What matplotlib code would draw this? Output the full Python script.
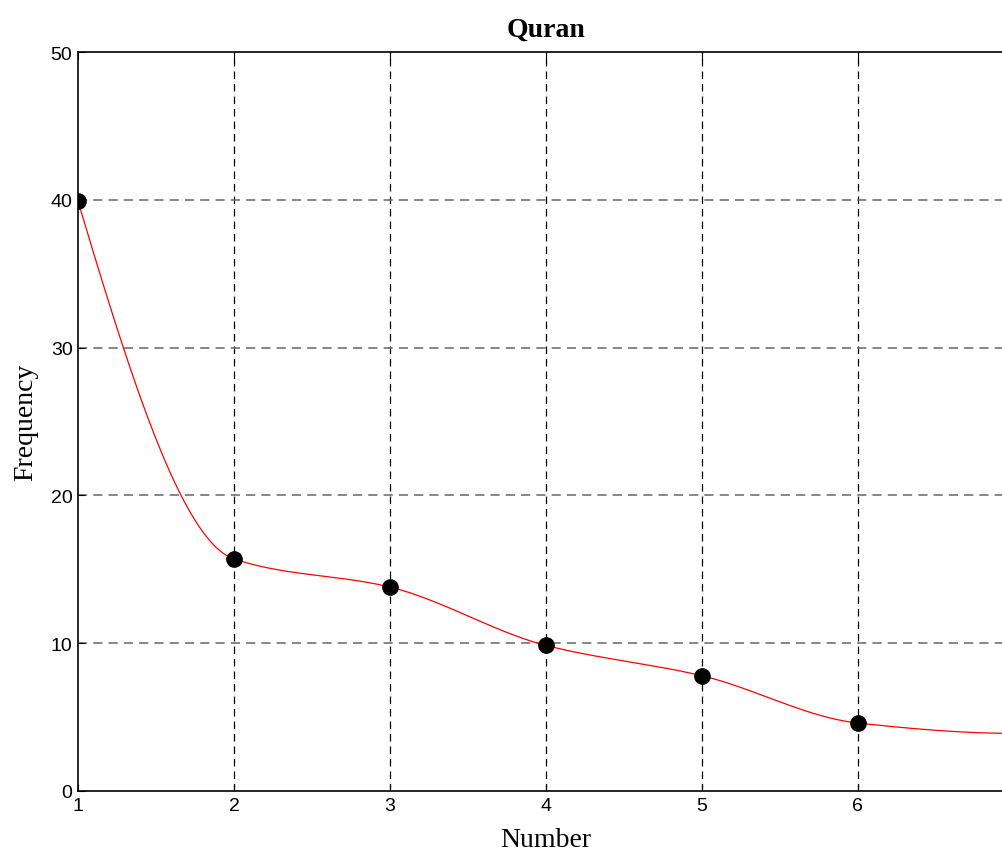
import numpy as np
import matplotlib
matplotlib.use("Agg")
import matplotlib.pyplot as plt

# data
number = [1, 2, 3, 4, 5, 6, 7]
frequency = [39.9, 15.7, 13.8, 9.85, 7.8, 4.6, 3.9]
xticks = [1, 2, 3, 4, 5, 6, 7]
yticks = [0, 10, 20, 30, 40, 50]


def pchip(x, y, xs):
    # shape-preserving piecewise cubic, like matlab's pchip
    x = np.asarray(x, float)
    y = np.asarray(y, float)
    h = np.diff(x)
    delta = np.diff(y) / h
    n = len(x)
    d = np.zeros(n)
    for k in range(1, n - 1):
        if delta[k - 1] * delta[k] > 0:
            w1 = 2 * h[k] + h[k - 1]
            w2 = h[k] + 2 * h[k - 1]
            d[k] = (w1 + w2) / (w1 / delta[k - 1] + w2 / delta[k])
    d[0] = ((2 * h[0] + h[1]) * delta[0] - h[0] * delta[1]) / (h[0] + h[1])
    if np.sign(d[0]) != np.sign(delta[0]):
        d[0] = 0
    d[-1] = ((2 * h[-1] + h[-2]) * delta[-1] - h[-1] * delta[-2]) / (h[-1] + h[-2])
    if np.sign(d[-1]) != np.sign(delta[-1]):
        d[-1] = 0
    idx = np.clip(np.searchsorted(x, xs) - 1, 0, n - 2)
    t = (xs - x[idx]) / h[idx]
    h00 = 2 * t**3 - 3 * t**2 + 1
    h10 = t**3 - 2 * t**2 + t
    h01 = -2 * t**3 + 3 * t**2
    h11 = t**3 - t**2
    return (h00 * y[idx] + h10 * h[idx] * d[idx]
            + h01 * y[idx + 1] + h11 * h[idx] * d[idx + 1])


xs = np.linspace(number[0], number[-1], 600)
ys = pchip(number, frequency, xs)

fig = plt.figure(figsize=(10.03, 8.54), dpi=100)
# axes runs a bit past the right edge, as in the original
ax = fig.add_axes([0.0778, 0.0726, 0.933, 0.8653])

ax.plot(xs, ys, color="red", linewidth=0.9, zorder=3)
ax.plot(number, frequency, "o", color="black", markersize=11, zorder=4)

ax.set_xlim(1, 7)
ax.set_ylim(0, 50)
ax.set_xticks(xticks)
ax.set_yticks(yticks)
ax.set_xticklabels([str(v) for v in xticks[:-1]] + [""])

for v in xticks[1:-1]:
    ax.axvline(v, color="black", linestyle=(0, (6, 4)), linewidth=0.9, zorder=1)
for v in yticks[1:-1]:
    ax.axhline(v, color="#666666", linestyle=(0, (6, 4)), linewidth=1.1, zorder=1)

ax.tick_params(direction="in", length=5, width=0.8, labelsize=14,
               top=True, right=True)
for lab in ax.get_xticklabels() + ax.get_yticklabels():
    lab.set_family(["Liberation Sans", "DejaVu Sans"])
ax.tick_params(axis="y", pad=4)
ax.tick_params(axis="x", pad=4)
for s in ax.spines.values():
    s.set_linewidth(1.2)

ax.set_title("Quran", fontsize=20, fontweight="bold",
             family="Liberation Serif", pad=12)
ax.set_xlabel("Number", fontsize=20, family="Liberation Serif", labelpad=10)
ax.set_ylabel("Frequency", fontsize=20, family="Liberation Serif", labelpad=9)

fig.savefig("out.png", dpi=100)
